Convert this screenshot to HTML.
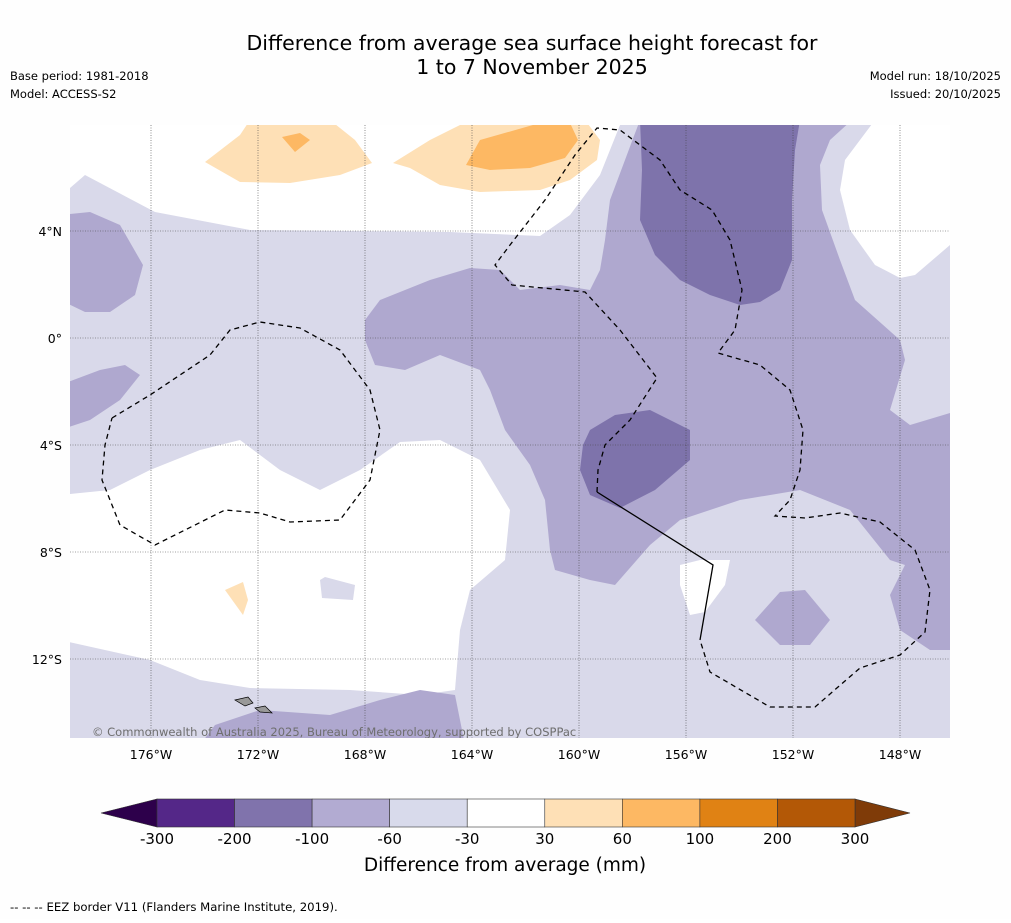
<!DOCTYPE html>
<html><head><meta charset="utf-8"><style>
html,body{margin:0;padding:0;background:#fff;}
body{width:1011px;height:919px;overflow:hidden;font-family:"DejaVu Sans","Liberation Sans",sans-serif;}
svg text{font-family:"DejaVu Sans","Liberation Sans",sans-serif;}
</style></head><body>
<svg width="1011" height="919" viewBox="0 0 1011 919">
<rect x="0" y="0" width="1011" height="919" fill="#fefefe"/>
<text x="532" y="50" font-size="20.5" text-anchor="middle">Difference from average sea surface height forecast for</text>
<text x="532" y="74" font-size="20.5" text-anchor="middle">1 to 7 November 2025</text>
<text x="10" y="80" font-size="11.5">Base period: 1981-2018</text>
<text x="10" y="98" font-size="11.5">Model: ACCESS-S2</text>
<text x="1001" y="80" font-size="11.5" text-anchor="end">Model run: 18/10/2025</text>
<text x="1001" y="98" font-size="11.5" text-anchor="end">Issued: 20/10/2025</text>

<defs><clipPath id="mapclip"><rect x="70" y="125" width="880" height="613"/></clipPath></defs>
<g clip-path="url(#mapclip)">
<rect x="70" y="125" width="880" height="613" fill="#d9d9ea"/>
<g fill="#ffffff">
<polygon points="60,125 60,188 70,188 85,175 155,212 250,230 450,232 540,236 570,215 600,175 620,125"/>
<polygon points="875,120 845,160 840,190 850,230 875,265 900,278 915,275 950,245 960,120"/>
<polygon points="60,495 110,490 150,470 200,450 240,440 280,470 320,490 360,470 400,442 440,440 480,460 510,510 505,560 470,590 460,630 455,690 420,695 350,690 250,688 200,680 150,660 60,640"/>
<polygon points="680,565 700,560 730,560 725,585 705,612 690,615 680,585"/>
</g>
<polygon points="320,580 325,577 355,585 353,600 322,598" fill="#d9d9ea"/>
<g fill="#afa8cf">
<polygon points="60,215 90,212 120,225 143,265 135,295 110,312 85,312 60,300"/>
<polygon points="60,385 100,370 125,365 140,375 120,400 90,420 60,430"/>
<polygon points="365,320 380,300 430,280 470,268 500,270 520,290 560,285 590,290 600,270 605,240 610,200 625,160 640,120 852,120 830,140 820,165 822,210 840,260 855,300 900,340 905,360 890,410 910,425 960,410 960,650 930,650 900,630 890,595 905,565 890,560 850,510 800,490 740,500 680,520 650,545 615,585 590,580 555,570 550,550 545,500 530,465 505,430 490,390 480,370 440,355 405,370 375,365 365,340"/>
<polygon points="755,620 780,592 805,590 830,620 810,645 780,645"/>
<polygon points="200,745 215,725 260,710 330,715 380,700 420,690 455,695 465,745"/>
</g>
<g fill="#7e73ab">
<polygon points="640,120 800,120 795,150 792,200 792,260 780,290 760,302 740,305 710,295 680,280 655,255 640,220 642,170"/>
<polygon points="590,430 615,415 650,410 690,430 690,460 655,490 620,508 590,495 580,470 583,445"/>
</g>
<g fill="#fee0b6">
<polygon points="205,162 240,135 250,120 330,120 355,140 372,163 340,175 290,183 240,182"/>
<polygon points="393,163 430,140 470,120 585,120 600,140 597,160 570,180 540,190 480,192 440,185 410,168"/>
<polygon points="225,590 243,582 248,600 243,615"/>
</g>
<g fill="#fdb863">
<polygon points="282,137 300,133 310,140 295,152"/>
<polygon points="466,165 480,140 540,123 570,123 578,140 565,158 530,168 490,170"/>
</g>
<g stroke="#444" stroke-width="0.6" stroke-dasharray="1,1.5" fill="none" id="grid"></g>
<g fill="#999" stroke="#000" stroke-width="0.7">
<polygon points="235,700 248,697 253,703 245,706"/>
<polygon points="255,708 265,706 272,713 260,712"/>
</g>
<g fill="none" stroke="#000" stroke-width="1.3">
<polyline stroke-dasharray="5,4" points="112,418 150,395 210,355 230,330 260,322 300,328 340,350 370,390 380,430 370,480 340,520 290,522 260,513 225,510 155,545 120,525 102,480 105,445 112,418"/>
<polyline stroke-dasharray="5,4" points="597,492 598,470 605,445 630,420 657,378 620,330 585,292 512,285 495,265 510,245 545,200 575,155 597,128 620,130 660,160 680,190 712,210 730,240 742,290 735,330 718,353 760,365 790,390 803,430 800,470 790,500 775,516 805,518 840,513 880,522 915,550 930,590 925,632 900,655 860,668 815,707 770,707 710,672 700,640"/>
<polyline points="597,492 713,565 700,640"/>
</g>
<text x="92" y="736" font-size="11.5" fill="#6e6e6e">© Commonwealth of Australia 2025, Bureau of Meteorology, supported by COSPPac</text>
</g>
<g id="axislabels" font-size="12.5"></g>
<g id="colorbar"></g>
<text x="505" y="871" font-size="18.5" text-anchor="middle">Difference from average (mm)</text>
<text x="10" y="911" font-size="11.7">-- -- -- EEZ border V11 (Flanders Marine Institute, 2019).</text>
</svg>
<script>
const lonTicks=[-176,-172,-168,-164,-160,-156,-152,-148];
const latTicks=[4,0,-4,-8,-12];
const levels=[-300,-200,-100,-60,-30,30,60,100,200,300];
const levelColors=["#542788","#8073ac","#b2abd2","#d8daeb","#ffffff","#fee0b6","#fdb863","#e08214","#b35806"];
const extendColors=["#2d004b","#7f3b08"];
const NS="http://www.w3.org/2000/svg";
function xOfLon(l){return 151+(l+176)*107/4;}
function yOfLat(l){return 338-l*107/4;}
const grid=document.getElementById('grid');
const ax=document.getElementById('axislabels');
lonTicks.forEach(l=>{
 const ln=document.createElementNS(NS,'line');
 
 
 ln.setAttribute('x1',xOfLon(l));ln.setAttribute('x2',xOfLon(l));ln.setAttribute('y1',125);ln.setAttribute('y2',738);
 grid.appendChild(ln);
 const t=document.createElementNS(NS,'text');
 
 
 t.setAttribute('x',xOfLon(l));t.setAttribute('y',759);t.setAttribute('text-anchor','middle');
 t.textContent=Math.abs(l)+'°W';ax.appendChild(t);
});
latTicks.forEach(l=>{
 const ln=document.createElementNS(NS,'line');
 
 
 ln.setAttribute('x1',70);ln.setAttribute('x2',950);ln.setAttribute('y1',yOfLat(l));ln.setAttribute('y2',yOfLat(l));
 grid.appendChild(ln);
 const t=document.createElementNS(NS,'text');
 
 
 t.setAttribute('x',62);t.setAttribute('y',yOfLat(l)+5);t.setAttribute('text-anchor','end');
 t.textContent=l===0?'0°':Math.abs(l)+'°'+(l>0?'N':'S');ax.appendChild(t);
});
const cb=document.getElementById('colorbar');
const cbx0=157,cbx1=855,cby=799,cbh=28;
const w=(cbx1-cbx0)/levelColors.length;
function addPoly(pts,fill,name){
 const p=document.createElementNS(NS,'polygon');
 
 
 p.setAttribute('points',pts);p.setAttribute('fill',fill);p.setAttribute('stroke','#333');p.setAttribute('stroke-width','0.6');
 cb.appendChild(p);
}
addPoly(`${cbx0},${cby} ${cbx0},${cby+cbh} 101,${cby+cbh/2}`,extendColors[0],'colorbar-extend-low');
addPoly(`${cbx1},${cby} ${cbx1},${cby+cbh} 910,${cby+cbh/2}`,extendColors[1],'colorbar-extend-high');
levelColors.forEach((c,i)=>{
 const r=document.createElementNS(NS,'rect');
 
 
 r.setAttribute('x',cbx0+i*w);r.setAttribute('y',cby);r.setAttribute('width',w);r.setAttribute('height',cbh);
 r.setAttribute('fill',c);r.setAttribute('stroke','#333');r.setAttribute('stroke-width','0.6');
 cb.appendChild(r);
});
levels.forEach((v,i)=>{
 const t=document.createElementNS(NS,'text');
 
 
 t.setAttribute('x',cbx0+i*w);t.setAttribute('y',844);t.setAttribute('text-anchor','middle');t.setAttribute('font-size','15');
 t.textContent=v;cb.appendChild(t);
});
</script>
</body></html>
